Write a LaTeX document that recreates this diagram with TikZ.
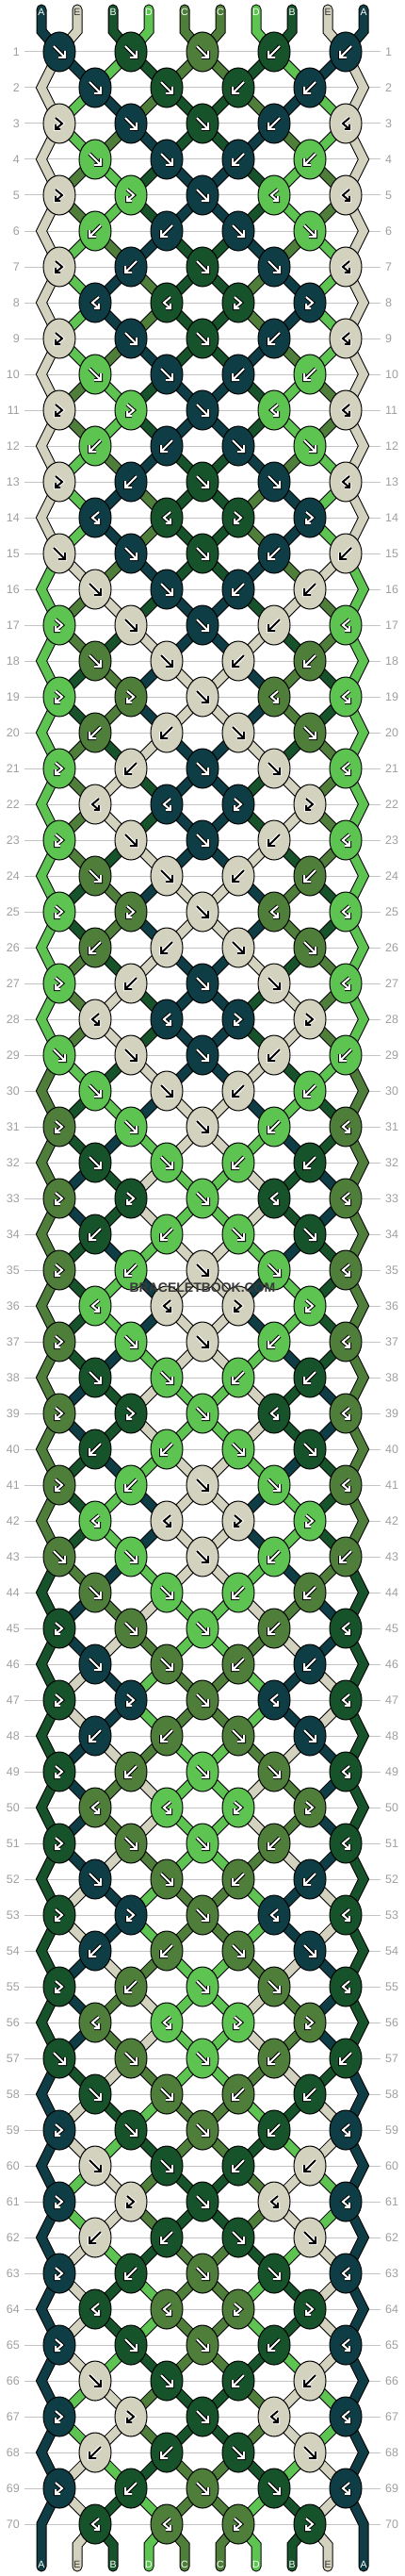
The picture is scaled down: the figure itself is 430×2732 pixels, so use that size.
\documentclass[tikz,border=0pt]{standalone}
\usepackage{fontspec}
\setmainfont{Liberation Sans}
\usetikzlibrary{shapes.geometric}

\definecolor{strA}{HTML}{0F3D45}
\definecolor{strB}{HTML}{16522A}
\definecolor{strC}{HTML}{4E7E3A}
\definecolor{strD}{HTML}{5DC452}
\definecolor{strE}{HTML}{D3D2BE}
\definecolor{rowline}{HTML}{C4C4C4}
\definecolor{numgray}{HTML}{A0A0A0}
\definecolor{wmgray}{HTML}{3A3A3A}

\tikzset{
  thr/.code={\ifnum\pass=0 \pgfkeysalso{line width=11pt,draw=black}\else\pgfkeysalso{line width=9pt,draw=#1}\fi},
  knot/.style={ellipse, draw=black, line width=1pt, minimum width=34pt, minimum height=42pt, inner sep=0pt},
  rownum/.style={font=\fontsize{12.5}{12.5}\selectfont, text=numgray, inner sep=0pt},
  strlabel/.style={font=\fontsize{10.5}{10.5}\selectfont, inner sep=0pt},
}

\def\beige{strE}
% #1 knot type, #2 arrow colour, #3 halo colour, #4 knot name
\newcommand\knotarrow[4]{%
  \if#1F\def\arrowpts{(-6,-6) -- (6,6) (6,-1) -- (6,6) -- (-1,6)}\fi
  \if#1B\def\arrowpts{(6,-6) -- (-6,6) (-6,-1) -- (-6,6) -- (1,6)}\fi
  \if#1R\def\arrowpts{(-4,-6) -- (3,0) -- (-4,6) (-4,1) -- (-4,6) -- (1,6)}\fi
  \if#1L\def\arrowpts{(4,-6) -- (-3,0) -- (4,6) (4,1) -- (4,6) -- (-1,6)}\fi
  \begin{scope}[shift={(#4.center)}]
    \draw[#3, line width=4pt] \arrowpts;
    \draw[#2, line width=2pt] \arrowpts;
  \end{scope}
}

\begin{document}
\begin{tikzpicture}[x=1pt, y=-1pt]
  \fill[white] (0,0) rectangle (430,2732);
  \useasboundingbox (0,0) rectangle (430,2732);

  % strings and knots, row by row
  \foreach \col [count=\slot from 0] in {strA,strE,strB,strD,strC,strC,strD,strB,strE,strA}{
    \expandafter\xdef\csname cur\slot\endcsname{\col}
    \expandafter\xdef\csname s0-\slot\endcsname{\col}
  }
  \foreach \period in {0,...,4}{
    \foreach \kinds [count=\kk] in {{F,F,F,B,B},{F,F,B,B},{R,F,F,B,L},{F,F,B,B},{R,R,F,L,L},{B,B,F,F},{R,B,F,F,L},{L,L,R,R},{R,F,F,B,L},{F,F,B,B},{R,R,F,L,L},{B,B,F,F},{R,B,F,F,L},{L,L,R,R}}{
      \pgfmathtruncatemacro\row{14*\period+\kk}
      \ifodd\row\relax\def\off{0}\else\def\off{1}\fi
      \foreach \knottype [count=\knot from 0] in \kinds {
        \pgfmathtruncatemacro\lslot{2*\knot+\off}
        \pgfmathtruncatemacro\rslot{\lslot+1}
        \edef\lc{\csname cur\lslot\endcsname}
        \edef\rc{\csname cur\rslot\endcsname}
        \let\kc\rc
        \if\knottype F\let\kc\lc\fi
        \if\knottype R\let\kc\lc\fi
        \expandafter\xdef\csname kc\row-\knot\endcsname{\kc}
        \expandafter\xdef\csname kt\row-\knot\endcsname{\knottype}
        \if\knottype F\def\doswap{1}\else\def\doswap{0}\fi
        \if\knottype B\def\doswap{1}\fi
        \ifnum\doswap=1
          \expandafter\xdef\csname cur\lslot\endcsname{\rc}
          \expandafter\xdef\csname cur\rslot\endcsname{\lc}
        \fi
      }
      \foreach \slot in {0,...,9}{
        \expandafter\xdef\csname s\row-\slot\endcsname{\csname cur\slot\endcsname}
      }
    }
  }

  % positions
  \foreach \row in {1,...,70}{
    \foreach \slot in {0,...,9}{
      \ifodd\row\relax
        \pgfmathtruncatemacro\px{63+38*(\slot-mod(\slot,2))}
      \else
        \pgfmathtruncatemacro\px{63+38*(\slot-1+mod(\slot,2))}
        \ifnum\slot=0 \def\px{44}\fi
        \ifnum\slot=9 \def\px{386}\fi
      \fi
      \coordinate (p\row-\slot) at (\px,17+38*\row);
    }
  }
  \foreach \slot in {0,...,9}{
    \coordinate (t\slot) at (44+38*\slot,10);
    \coordinate (tb\slot) at (44+38*\slot,33);
    \coordinate (bb\slot) at (44+38*\slot,2699);
    \coordinate (b\slot) at (44+38*\slot,2722);
  }

  % row numbers
  \foreach \row in {1,...,70}{
    \node[rownum, anchor=east] (nl\row) at (21,17+38*\row) {\row};
    \node[rownum, anchor=west] (nr\row) at (409,17+38*\row) {\row};
    \draw[rowline, line width=1pt] ([xshift=5pt]nl\row.east) -- ([xshift=-5pt]nr\row.west);
  }

  % threads: outline first, then colour
  \foreach \pass in {0,1}{
    \foreach \slot in {0,...,9}{
      \edef\cc{\csname s0-\slot\endcsname}
      \draw[thr=\cc, line cap=round] (t\slot) -- (tb\slot) -- (p1-\slot);
    }
    \foreach \row in {1,...,69}{
      \pgfmathtruncatemacro\nxt{\row+1}
      \foreach \slot in {1,...,8}{
        \edef\cc{\csname s\row-\slot\endcsname}
        \draw[thr=\cc] (p\row-\slot) -- (p\nxt-\slot);
      }
    }
    \foreach \row in {2,4,...,68}{
      \pgfmathtruncatemacro\prv{\row-1}
      \pgfmathtruncatemacro\nxt{\row+1}
      \foreach \slot in {0,9}{
        \edef\cc{\csname s\row-\slot\endcsname}
        \draw[thr=\cc] (p\prv-\slot) -- (p\row-\slot) -- (p\nxt-\slot);
      }
    }
    \foreach \slot in {0,9}{
      \edef\cc{\csname s70-\slot\endcsname}
      \draw[thr=\cc, line cap=round] (p69-\slot) -- (p70-\slot) -- (b\slot);
    }
    \foreach \slot in {1,...,8}{
      \edef\cc{\csname s70-\slot\endcsname}
      \draw[thr=\cc, line cap=round] (p70-\slot) -- (bb\slot) -- (b\slot);
    }
  }

  % knots
  \foreach \row in {1,...,70}{
    \ifodd\row\relax\def\nk{4}\def\off{0}\else\def\nk{3}\def\off{1}\fi
    \foreach \knot in {0,...,\nk}{
      \pgfmathtruncatemacro\lslot{2*\knot+\off}
      \edef\kc{\csname kc\row-\knot\endcsname}
      \edef\kt{\csname kt\row-\knot\endcsname}
      \node[knot, fill=\kc] (k\row-\knot) at (p\row-\lslot) {};
      \ifx\kc\beige
        \knotarrow{\kt}{black}{white}{k\row-\knot}
      \else
        \knotarrow{\kt}{white}{black}{k\row-\knot}
      \fi
    }
  }

  % string letters
  \foreach \name [count=\slot from 0] in {A,E,B,D,C,C,D,B,E,A}{
    \def\tc{white}
    \if\name E\def\tc{black!80}\fi
    \node[strlabel, text=\tc] (lt\slot) at (44+38*\slot,13) {\name};
    \node[strlabel, text=\tc] (lb\slot) at (44+38*\slot,2720) {\name};
  }

  \node[font=\bfseries\fontsize{14}{14}\selectfont, text=wmgray] (wm) at (215,1366) {BRACELETBOOK.COM};
\end{tikzpicture}
\end{document}
